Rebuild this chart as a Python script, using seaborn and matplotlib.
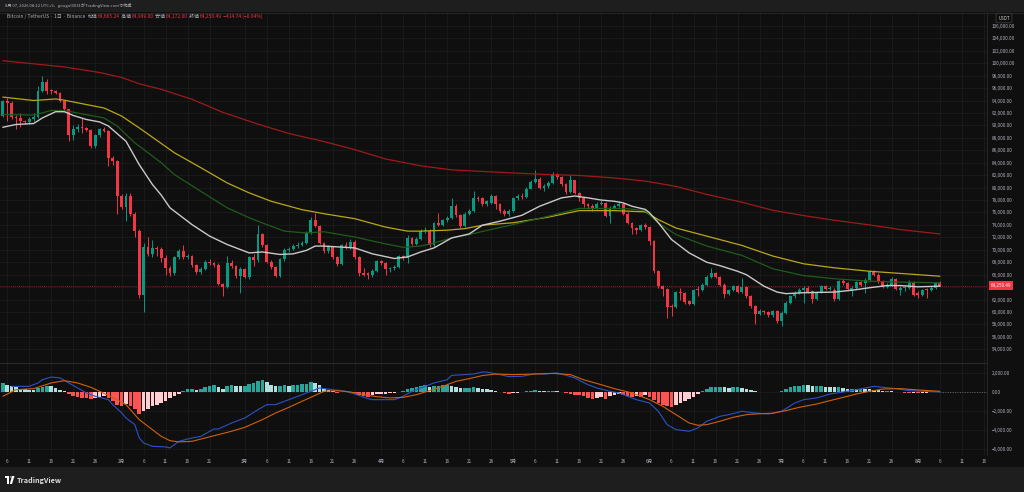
import numpy as np
import pandas as pd
import matplotlib
matplotlib.use("Agg")
import matplotlib.pyplot as plt
import matplotlib.transforms as mtransforms
from matplotlib.lines import Line2D
from matplotlib.patches import Rectangle, Polygon, Circle
import seaborn as sns

# ---------------- data (daily candles from 2026-01-05 to 2026-08-06) ----------------
START = "2026-01-05"
opens = [91480, 93900, 93650, 91400, 91200, 90750, 90500, 91050, 91400, 95500,
         97000, 95600, 95550, 95250, 93900, 92650, 88400, 89500, 89700, 89650,
         89300, 86650, 88400, 89350, 89150, 84700, 84250, 78700, 76900, 78700,
         75800, 73100, 62800, 70500, 69250, 70300, 70050, 68700, 67100, 66300,
         68800, 69780, 68800, 68950, 67500, 66450, 66950, 68050, 67900, 67500,
         64500, 64000, 67900, 67350, 65750, 66950, 65650, 68800, 68300, 72550,
         70850, 68050, 67200, 65850, 68450, 69900, 70200, 70600, 70850, 71100,
         72700, 74850, 73800, 71100, 69800, 70400, 68800, 67750, 70750, 70450,
         71300, 68800, 66300, 66250, 65900, 66650, 68150, 67900, 66850, 67100,
         67310, 68950, 68700, 71900, 70950, 71800, 73000, 73100, 70700, 74350,
         74050, 74750, 75150, 77000, 75550, 73800, 75800, 76300, 78250, 78250,
         77400, 77550, 78600, 77300, 76200, 75700, 76300, 78250, 78700, 78450,
         79850, 80900, 81450, 79950, 80250, 80750, 82200, 81700, 80500, 79300,
         81150, 79150, 78250, 77400, 77000, 76750, 77400, 77550, 75400, 76750,
         77000, 77300, 75800, 74350, 73550, 73250, 73950, 73700, 71400, 66550,
         64150, 63700, 61000, 60800, 63200, 63050, 61700, 61350, 63600, 63500,
         64400, 65650, 66300, 65600, 64400, 62900, 63500, 64150, 63200, 64000,
         62550, 60950, 59700, 60150, 59950, 59450, 60150, 58500, 59850, 61450,
         62550, 63100, 63600, 63900, 63300, 62100, 63200, 64150, 63700, 63600,
         62100, 64950, 64600, 63500, 63900, 64800, 64700, 65200, 66550, 66000,
         64950, 64050, 64350, 65350, 63600, 63850, 63900, 64800, 63100, 62750,
         63700, 63500, 63900, 64665.24]
highs = [94100, 94450, 93900, 91700, 92000, 90900, 91300, 92000, 96300, 98000,
         97500, 95900, 95700, 95300, 93950, 92700, 90100, 90300, 91200, 89800,
         89400, 88600, 89600, 89700, 89300, 85000, 84400, 79000, 79200, 79200,
         76000, 73300, 71100, 72000, 71500, 70600, 70400, 69200, 67400, 69000,
         70100, 70850, 69400, 69200, 67700, 67200, 68300, 68500, 68000, 67800,
         64700, 69000, 68400, 67500, 67300, 67100, 69000, 69300, 74050, 72700,
         71000, 68300, 67400, 68700, 70300, 70500, 70900, 71200, 71400, 73000,
         75200, 75950, 74000, 71300, 70700, 70600, 69000, 71000, 71200, 71700,
         71500, 69000, 67100, 66500, 66900, 68400, 68400, 68100, 67300, 67600,
         69200, 69200, 72450, 72100, 72000, 73300, 73600, 73300, 74500, 75950,
         75000, 75500, 78250, 77300, 75700, 76000, 76600, 79400, 78600, 78500,
         78000, 78900, 78800, 77500, 76500, 76500, 78500, 78900, 79100, 80100,
         81200, 82900, 81700, 80500, 81000, 82500, 82400, 81900, 80700, 82100,
         81300, 79300, 78400, 77600, 77300, 77700, 78000, 77700, 77000, 77300,
         77800, 77700, 76000, 74500, 73700, 74200, 74300, 73900, 71500, 66700,
         64400, 63900, 61300, 63400, 63900, 63200, 61900, 63700, 64250, 64600,
         65900, 67100, 66500, 65800, 64600, 63700, 64400, 64300, 65500, 64200,
         62700, 61100, 60500, 60400, 60200, 60400, 60300, 60100, 61700, 62800,
         63300, 63900, 64100, 64100, 63500, 63400, 64400, 64300, 64100, 63800,
         65200, 65300, 64800, 64100, 65000, 65000, 65400, 66800, 66800, 66200,
         65100, 64600, 65600, 65500, 64100, 64300, 65200, 65000, 63300, 63700,
         63900, 64100, 64900, 64999.00]
lows = [91300, 90700, 91000, 89500, 89700, 90300, 90300, 90700, 91200, 95300,
        95000, 95100, 95000, 93700, 92400, 87500, 87600, 88900, 88800, 89100,
        86300, 86400, 88200, 88900, 83500, 83700, 75800, 76500, 74600, 75500,
        72000, 62300, 60000, 69000, 68800, 69000, 68000, 66000, 65800, 66000,
        68600, 68600, 68500, 67300, 66100, 66100, 66800, 67600, 67300, 64300,
        62500, 63800, 67000, 65500, 63100, 65400, 65300, 67400, 68000, 70500,
        67800, 66900, 65600, 65700, 68200, 69600, 69900, 70300, 70600, 70900,
        72500, 73600, 70900, 69500, 69500, 68600, 67400, 67500, 70100, 70200,
        68600, 65800, 65750, 65300, 65700, 66500, 67600, 66000, 66500, 66800,
        67100, 68400, 67900, 70700, 70700, 71500, 72700, 70500, 70500, 73800,
        73800, 74500, 74900, 75300, 73500, 73600, 75600, 76100, 77800, 77000,
        77100, 77300, 76600, 75900, 75400, 75500, 76100, 78000, 78200, 78300,
        79700, 80700, 79700, 79500, 80000, 80500, 81400, 80200, 79000, 79100,
        78900, 77900, 76800, 76500, 76300, 76600, 77200, 75200, 74300, 76500,
        76800, 75600, 74100, 72600, 72600, 73000, 73400, 70700, 66300, 63900,
        62550, 59050, 59300, 60600, 62000, 61300, 61100, 61200, 62550, 63300,
        64200, 65400, 65400, 64200, 62300, 62700, 63300, 63000, 63000, 62300,
        60700, 58150, 59500, 59700, 59200, 59200, 58200, 57700, 59600, 61300,
        62300, 62900, 61500, 63000, 61500, 61900, 63000, 63500, 63500, 61800,
        61900, 64400, 63500, 62500, 63700, 64200, 63100, 65000, 65800, 64700,
        63800, 63900, 64200, 63500, 62800, 63350, 63700, 62600, 62250, 62500,
        62250, 63300, 63700, 64172.00]
closes = [93900, 93650, 91400, 91200, 90700, 90500, 91050, 91400, 95500, 97000,
          95600, 95550, 95250, 93900, 92650, 88400, 89500, 89700, 89650, 89300,
          86650, 88400, 89350, 89150, 84700, 84250, 78700, 76900, 78700, 75800,
          73100, 62800, 70500, 69250, 70300, 70050, 68700, 67100, 66300, 68800,
          69780, 68800, 68950, 67500, 66450, 66950, 68050, 67900, 67500, 64500,
          64000, 67900, 67350, 65750, 66950, 65650, 68800, 68300, 72550, 70850,
          68050, 67200, 65850, 68450, 69900, 70200, 70600, 70850, 71100, 72700,
          74850, 73800, 71100, 69800, 70400, 68800, 67750, 70750, 70450, 71300,
          68800, 66300, 66000, 65900, 66650, 68150, 67900, 66850, 67100, 67310,
          68950, 68700, 71900, 70950, 71800, 73000, 73100, 70700, 74350, 74050,
          74750, 75150, 77000, 75550, 73800, 75800, 76300, 78250, 78100, 77400,
          77800, 78600, 77300, 76200, 75700, 76300, 78250, 78600, 78450, 79850,
          80900, 81450, 79950, 80250, 80750, 82200, 81700, 80500, 79300, 81150,
          79150, 78250, 77400, 77000, 76750, 77400, 77550, 75400, 76750, 77000,
          77300, 75800, 74350, 73550, 73250, 73950, 73700, 71400, 66550, 64150,
          63700, 60850, 60800, 63200, 63050, 61600, 61350, 63500, 63500, 64400,
          65650, 66300, 65600, 64400, 62900, 63500, 64150, 63200, 64000, 62550,
          60950, 59600, 60150, 59950, 59450, 60150, 58500, 59850, 61450, 62550,
          63100, 63600, 63900, 63200, 62100, 63200, 64150, 63700, 63850, 62100,
          64950, 64600, 63700, 63900, 64800, 64400, 65200, 66550, 66000, 64950,
          64050, 64350, 65350, 63700, 63900, 64050, 64800, 62800, 62800, 63500,
          63500, 63900, 64600, 64250.49]

# moving averages (sample dates, values)
ma_white_dates = ["01-05", "01-08", "01-12", "01-14", "01-17", "01-19", "01-21", "01-24", "01-27", "01-29",
                  "02-02", "02-05", "02-08", "02-10", "02-12", "02-17", "02-21", "02-25", "03-02", "03-05",
                  "03-09", "03-12", "03-15", "03-17", "03-19", "03-26", "03-30", "04-04", "04-07", "04-10",
                  "04-13", "04-17", "04-21", "04-24", "04-28", "05-03", "05-07", "05-12", "05-15", "05-18",
                  "05-21", "05-24", "05-26", "05-28", "05-31", "06-01", "06-03", "06-06", "06-10", "06-14",
                  "06-17", "06-21", "06-23", "06-27", "06-30", "07-02", "07-06", "07-13", "07-17", "07-21",
                  "07-25", "07-28", "08-01", "08-06"]
ma_white = [89700, 90150, 90300, 91200, 92200, 92200, 91600, 90950, 90550, 89900,
            87450, 83700, 80500, 78800, 76750, 74050, 72200, 70850, 69500, 69650,
            69250, 69350, 69900, 70600, 70600, 70300, 69350, 68600, 68850, 69650,
            70300, 71900, 72550, 73950, 74600, 75550, 77000, 78350, 78650, 78350,
            78000, 77800, 77550, 77000, 76500, 75950, 74350, 71650, 69500, 68000,
            67450, 66550, 66000, 64150, 63200, 62950, 63100, 63200, 63500, 63900,
            64250, 64250, 64050, 64150]
ma_green_dates = ["01-05", "01-12", "01-16", "01-19", "01-23", "01-28", "01-31", "02-04", "02-10", "02-13",
                  "02-19", "02-25", "03-02", "03-06", "03-10", "03-15", "03-19", "03-26", "04-02", "04-06",
                  "04-10", "04-13", "04-17", "04-21", "04-24", "05-01", "05-09", "05-16", "05-24", "05-27",
                  "05-31", "06-03", "06-07", "06-14", "06-22", "06-29", "07-06", "07-13", "07-21", "07-28",
                  "08-06"]
ma_green = [91750, 91650, 92400, 92400, 91850, 91200, 89900, 87200, 84000, 82100,
            79400, 76750, 75150, 74050, 73000, 72700, 72900, 72050, 70950, 70400,
            70600, 71100, 71900, 72450, 72950, 74050, 75400, 76650, 76650, 76600,
            76300, 74300, 72450, 70600, 69100, 66950, 65850, 65350, 64950, 64800,
            64700]
ma_yellow_dates = ["01-05", "01-12", "01-17", "01-19", "01-24", "01-28", "02-01", "02-05", "02-10", "02-13",
                   "02-19", "02-25", "03-02", "03-07", "03-14", "03-19", "03-26", "04-02", "04-07", "04-10",
                   "04-16", "04-20", "04-24", "05-01", "05-09", "05-16", "05-24", "05-31", "06-03", "06-07",
                   "06-14", "06-22", "06-29", "07-06", "07-13", "07-21", "07-28", "08-06"]
ma_yellow = [94550, 94000, 94250, 94050, 93350, 92800, 91500, 89600, 87100, 85600,
             83200, 80750, 79150, 77800, 76450, 75800, 75000, 73650, 73000, 73000,
             73150, 73400, 73950, 74350, 75250, 76300, 76300, 76100, 74850, 73500,
             72200, 70700, 69000, 67750, 67100, 66550, 66200, 65750]
ma_red_dates = ["01-05", "01-12", "01-19", "01-27", "02-01", "02-05", "02-10", "02-17", "02-24", "03-04",
                "03-11", "03-19", "03-26", "04-02", "04-10", "04-17", "04-24", "05-01", "05-09", "05-16",
                "05-24", "05-31", "06-07", "06-14", "06-22", "06-29", "07-06", "07-13", "07-21", "07-28",
                "08-06"]
ma_red = [100400, 99900, 99400, 98500, 97700, 96700, 95800, 94200, 92100, 90200,
          88700, 87400, 86100, 84600, 83500, 82850, 82600, 82350, 82100, 81950,
          81550, 81050, 80200, 78900, 77650, 76350, 75500, 74750, 74000, 73250,
          72550]

# MACD histogram (one value per candle)
macd_hist = [870, 730, 600, 460, 330, 230, 200, 170, 380, 520,
             600, 560, 380, 210, 70, -280, -450, -550, -620, -690,
             -800, -660, -590, -450, -660, -1000, -1350, -1460, -1280, -1530,
             -1770, -2290, -2050, -1770, -1530, -1350, -1150, -940, -690, -450,
             -240, 110, 250, 250, 180, 320, 460, 600, 660, 460,
             320, 560, 660, 630, 600, 600, 840, 910, 1150, 1180,
             1010, 730, 560, 630, 660, 630, 660, 700, 770, 840,
             980, 910, 660, 320, 210, 110, -100, -30, -50, -70,
             -170, -310, -450, -520, -380, -240, -200, -200, -170, -100,
             -20, 110, 250, 380, 490, 600, 660, 490, 600, 600,
             660, 730, 630, 460, 380, 380, 420, 460, 380, 320,
             250, 180, 110, 0, -100, -240, -130, -100, -70, 30,
             110, 180, 110, 70, 70, 110, 70, -70, -130, -200,
             -310, -380, -480, -660, -720, -660, -590, -720, -480, -310,
             -240, -310, -450, -520, -450, -550, -380, -590, -900, -1150,
             -1350, -1490, -1590, -1350, -1150, -940, -720, -520, -240, 110,
             280, 460, 530, 530, 460, 380, 460, 460, 380, 320,
             180, 70, -20, -30, -30, -70, -20, 110, 250, 460,
             560, 630, 700, 660, 630, 630, 630, 530, 490, 460,
             460, 380, 280, 320, 280, 320, 280, 250, 180, 140,
             110, 110, 70, 0, -70, -100, -130, -100, -170, -130,
             -100, -70, -30, -15]
macd_dates = ["01-07", "01-11", "01-13", "01-14", "01-16", "01-18", "01-20", "01-22", "01-24", "01-26",
              "01-29", "01-30", "02-01", "02-02", "02-04", "02-05", "02-06", "02-08", "02-11", "02-12",
              "02-14", "02-17", "02-19", "02-22", "02-23", "02-26", "02-28", "03-01", "03-04", "03-06",
              "03-08", "03-11", "03-14", "03-17", "03-18", "03-21", "03-24", "03-26", "03-29", "03-30",
              "04-04", "04-06", "04-08", "04-11", "04-13", "04-16", "04-17", "04-20", "04-22", "04-24",
              "04-25", "04-28", "04-30", "05-03", "05-06", "05-08", "05-11", "05-13", "05-15", "05-18",
              "05-20", "05-23", "05-25", "05-27", "05-29", "06-01", "06-03", "06-05", "06-07", "06-10",
              "06-12", "06-14", "06-17", "06-19", "06-22", "06-25", "06-28", "07-01", "07-04", "07-06",
              "07-09", "07-12", "07-15", "07-18", "07-22", "07-24", "07-27", "07-30", "08-02", "08-06"]
macd_line = [560, 560, 910, 1250, 1530, 1430, 910, 390, -130, -480,
             -830, -1350, -2200, -2740, -3430, -4800, -5340, -5690, -5750, -5860,
             -5170, -4820, -4650, -3880, -3880, -3260, -2910, -2740, -1870, -1350,
             -1350, -830, -310, 210, 390, 210, 40, -240, -720, -830,
             -830, -480, 40, 560, 910, 1250, 1700, 1780, 1840, 2050,
             2050, 1780, 1570, 1600, 1880, 1840, 1950, 1710, 1430, 730,
             390, 40, -130, -480, -830, -1180, -2040, -3430, -3950, -4120,
             -3780, -3080, -2560, -2390, -2040, -2220, -2320, -2040, -1180, -830,
             -650, -240, -30, 210, 560, 460, 320, 110, 40, -30]
signal_dates = ["01-05", "01-08", "01-12", "01-16", "01-19", "01-22", "01-25", "01-27", "01-30", "02-02",
                "02-05", "02-08", "02-10", "02-12", "02-14", "02-17", "02-20", "02-23", "02-26", "03-01",
                "03-05", "03-08", "03-11", "03-14", "03-17", "03-19", "03-22", "03-25", "03-28", "03-31",
                "04-03", "04-06", "04-09", "04-12", "04-15", "04-18", "04-21", "04-24", "04-27", "05-01",
                "05-06", "05-10", "05-14", "05-17", "05-21", "05-24", "05-28", "06-01", "06-04", "06-07",
                "06-10", "06-12", "06-14", "06-17", "06-20", "06-23", "06-26", "06-29", "07-02", "07-05",
                "07-09", "07-12", "07-15", "07-18", "07-21", "07-24", "07-28", "08-01", "08-06"]
signal_line = [-480, 210, 320, 910, 1150, 910, 460, 40, -590, -1350,
               -2910, -3950, -4650, -5100, -5230, -5170, -4820, -4470, -4120, -3710,
               -2910, -2220, -1630, -1000, -380, 40, 110, -30, -310, -520,
               -650, -590, -310, 110, 560, 1080, 1360, 1680, 1840, 1780,
               1840, 1910, 1780, 1250, 730, 320, -130, -830, -1520, -2390,
               -3260, -3500, -3430, -3080, -2670, -2390, -2290, -2250, -1970, -1630,
               -1280, -930, -590, -240, 40, 280, 320, 180, 40]

price_ticks = list(range(54000, 106001, 2000))
macd_ticks = [2000, 0, -2000, -4000, -6000]

title_text = "8月 07, 2026 08:22 UTC+9、googol0031がTradingView.comで作成"
symbol_text = "Bitcoin / TetherUS · 1日 · Binance"
change_text = "−414.74 (−0.64%)"

# ---------------- style ----------------
BG = "#0f0f0f"
STRIP = "#1e1e1e"
GRID = "#1b1b1b"
SEP = "#2a2a2a"
TXT = "#b2b5be"
UP = "#089981"
DN = "#f23645"

sns.set_theme(style="dark", rc={"axes.facecolor": BG, "figure.facecolor": BG})
plt.rcParams["font.family"] = ["Noto Sans CJK JP", "DejaVu Sans"]
plt.rcParams["axes.unicode_minus"] = True

W, H = 1024, 492
fig = plt.figure(figsize=(W / 100, H / 100), dpi=100)
fig.patch.set_facecolor(BG)


def rect(x0, y0, x1, y1):
    return [x0 / W, 1 - y1 / H, (x1 - x0) / W, (y1 - y0) / H]


ax_p = fig.add_axes(rect(0, 12, 987, 363))
ax_m = fig.add_axes(rect(0, 363, 987, 455), sharex=ax_p)
for ax in (ax_p, ax_m):
    ax.set_facecolor(BG)
    for s in ax.spines.values():
        s.set_visible(False)

start = pd.Timestamp(START)
n = len(closes)
idx = np.arange(n)


def to_idx(labels):
    return [(pd.Timestamp("2026-" + s) - start).days for s in labels]


# x ticks (TradingView-style day labels)
tick_pos, tick_lab = [], []
for d in pd.date_range(START, "2026-08-20", freq="D"):
    i = (d - start).days
    if d.day == 1:
        tick_pos.append(i); tick_lab.append(f"{d.month}月")
    elif d.day in (6, 11, 16, 21, 26):
        nxt = (d + pd.offsets.MonthBegin(1))
        if (nxt - d).days >= 5:
            tick_pos.append(i); tick_lab.append(str(d.day))

XL = (-0.64, 223.7)
ax_p.set_xlim(*XL)
ax_p.set_ylim(51800, 108230)
ax_m.set_ylim(-6594, 2990)

# grids
for ax in (ax_p, ax_m):
    ax.set_xticks(tick_pos)
    ax.grid(True, color=GRID, lw=0.6)
    ax.set_axisbelow(True)
ax_p.set_yticks(price_ticks)
ax_m.set_yticks(macd_ticks)

# ---------------- candles ----------------
O = np.array(opens, float); Hh = np.array(highs, float)
Ll = np.array(lows, float); Cc = np.array(closes, float)
cols = np.where(Cc >= O, UP, DN)
ax_p.vlines(idx, Ll, Hh, colors=cols, lw=0.7, zorder=3)
ax_p.bar(idx, np.maximum(np.abs(Cc - O), 150), bottom=np.minimum(O, Cc),
         width=0.66, color=cols, lw=0, zorder=4)

# ---------------- moving averages ----------------
for dts, vals, c, lw in [(ma_red_dates, ma_red, "#9e1a1a", 0.9),
                         (ma_yellow_dates, ma_yellow, "#b8a816", 0.9),
                         (ma_green_dates, ma_green, "#1f5c1a", 0.9),
                         (ma_white_dates, ma_white, "#c9c9c9", 1.0)]:
    df = pd.DataFrame({"i": to_idx(dts), "v": vals})
    sns.lineplot(data=df, x="i", y="v", ax=ax_p, color=c, lw=lw,
                 estimator=None, zorder=5, legend=False)

# last price line + label
last = closes[-1]
ax_p.axhline(last, color=DN, lw=0.5, ls=(0, (1, 2)), zorder=2, alpha=0.9)
trans = mtransforms.blended_transform_factory(ax_p.transAxes, ax_p.transData)
ax_p.text(1.0035, last, f"{last:,.2f}", transform=trans, ha="left", va="center",
          color="white", fontsize=3.3, clip_on=False, zorder=10,
          bbox=dict(boxstyle="square,pad=0.35", fc=DN, ec="none"))

# ---------------- MACD ----------------
hist = np.array(macd_hist, float)
hcols = []
for i, h in enumerate(hist):
    prev = hist[i - 1] if i > 0 else h
    if h >= 0:
        hcols.append("#26a69a" if h >= prev else "#b2dfdb")
    else:
        hcols.append("#ff5252" if h < prev else "#ffcdd2")
ax_m.bar(idx, hist, width=0.8, color=hcols, lw=0, zorder=3)
sns.lineplot(data=pd.DataFrame({"i": to_idx(macd_dates), "v": macd_line}), x="i", y="v",
             ax=ax_m, color="#2b52c8", lw=0.8, estimator=None, zorder=5, legend=False)
sns.lineplot(data=pd.DataFrame({"i": to_idx(signal_dates), "v": signal_line}), x="i", y="v",
             ax=ax_m, color="#d2600a", lw=0.8, estimator=None, zorder=5, legend=False)
ax_m.hlines(hist[-1], n - 1, XL[1], colors="#787b86", lw=0.5, linestyles=(0, (1.5, 2)), zorder=2)

# ---------------- axes labels ----------------
for ax in (ax_p, ax_m):
    ax.yaxis.tick_right()
    ax.set_xlabel(""); ax.set_ylabel("")
# the last-price badge hides the axis label it sits on
ax_p.set_yticklabels(["" if abs(v - last) < 1200 else f"{v:,.2f}" for v in price_ticks])
ax_m.set_yticklabels([f"{v:,.2f}".replace("-", "−") for v in macd_ticks])
ax_p.tick_params(axis="y", length=0, pad=3.6, labelsize=3.3, labelcolor=TXT)
ax_m.tick_params(axis="y", length=0, pad=3.6, labelsize=3.3, labelcolor=TXT)
ax_p.tick_params(axis="x", length=0, labelbottom=False)
ax_m.set_xticklabels(tick_lab)
ax_m.tick_params(axis="x", length=0, pad=3.2, labelsize=3.3, labelcolor=TXT)
ax_p.set_xlim(*XL)

# ---------------- frame / decorations ----------------
fig.add_artist(Rectangle((0, 1 - 12 / H), 1, 12 / H, transform=fig.transFigure,
                         fc=STRIP, ec="none", zorder=0))
fig.add_artist(Rectangle((0, 0), 1, 25 / H, transform=fig.transFigure,
                         fc=STRIP, ec="none", zorder=0))
fig.add_artist(Line2D([0, 987 / W], [1 - 363 / H] * 2, transform=fig.transFigure, color=SEP, lw=0.8))
fig.add_artist(Line2D([987 / W] * 2, [1 - 455 / H, 1 - 12 / H], transform=fig.transFigure, color=SEP, lw=0.6))
fig.add_artist(Line2D([0, 1], [1 - 12.5 / H] * 2, transform=fig.transFigure, color=SEP, lw=0.6))

fig.text(5 / W, 1 - 6 / H, title_text, color=TXT, fontsize=3.0, ha="left", va="center")

# legend line with coloured pieces
renderer = fig.canvas.get_renderer()
pieces = [(symbol_text + "  ", TXT),
          ("始値", TXT), (f"{opens[-1]:,.2f}", DN),
          ("  高値", TXT), (f"{highs[-1]:,.2f}", DN),
          ("  安値", TXT), (f"{lows[-1]:,.2f}", DN),
          ("  終値", TXT), (f"{closes[-1]:,.2f}", DN),
          ("  " + change_text, DN)]
xpx = 7
for s, c in pieces:
    t = fig.text(xpx / W, 1 - 16.5 / H, s, color=c, fontsize=3.5, ha="left", va="center")
    xpx += t.get_window_extent(renderer=renderer).width

fig.text(1004 / W, 1 - 18 / H, "USDT", color="#d1d4dc", fontsize=3.2, ha="center", va="center",
         bbox=dict(boxstyle="round,pad=0.5,rounding_size=0.4", fc=BG, ec="#3a3a3a", lw=0.6))

# TradingView logo (simple mark) + wordmark
fig.add_artist(Rectangle((5 / W, 1 - 478 / H), 4 / W, 2.2 / H, transform=fig.transFigure, fc="white", ec="none"))
fig.add_artist(Rectangle((7 / W, 1 - 484 / H), 2 / W, 6 / H, transform=fig.transFigure, fc="white", ec="none"))
fig.add_artist(Circle((10.8 / W, 1 - 477 / H), 1.0 / W, transform=fig.transFigure, fc="white", ec="none"))
fig.add_artist(Polygon([(12 / W, 1 - 476 / H), (14.5 / W, 1 - 476 / H), (12 / W, 1 - 484 / H), (9.8 / W, 1 - 484 / H)],
                       closed=True, transform=fig.transFigure, fc="white", ec="none"))
fig.text(17 / W, 1 - 480 / H, "TradingView", color="#e0e0e0", fontsize=5.2, fontweight="bold",
         ha="left", va="center")

fig.savefig("out.png", dpi=100, facecolor=fig.get_facecolor())
